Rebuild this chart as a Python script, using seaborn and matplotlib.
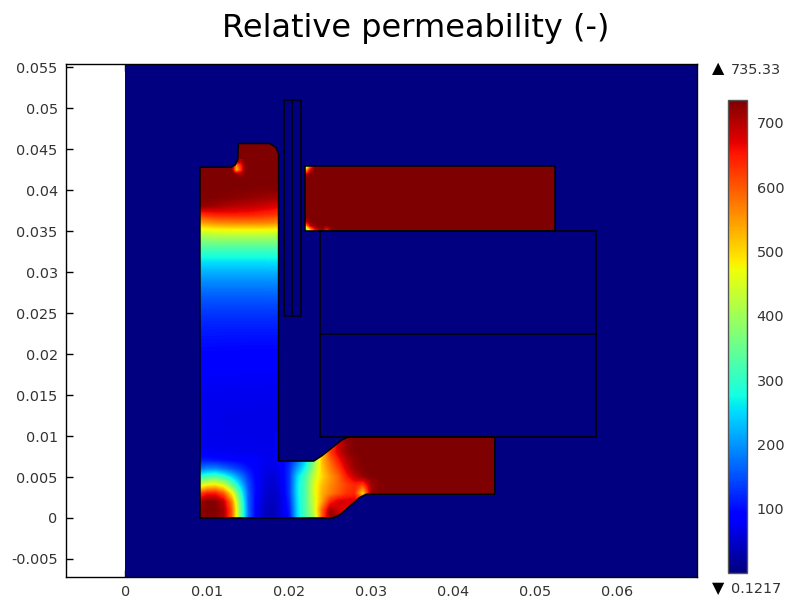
import numpy as np
import matplotlib
matplotlib.use('Agg')
import matplotlib.pyplot as plt
import seaborn as sns
from matplotlib.patches import Polygon
from matplotlib.transforms import Affine2D

# Values
V_MIN = 0.1217
V_MAX = 735.33
X_RIGHT = 0.0698
Y_LOW, Y_HIGH = -0.0072, 0.0554

x_ticks = [0, 0.01, 0.02, 0.03, 0.04, 0.05, 0.06]
x_tick_labels = ['0', '0.01', '0.02', '0.03', '0.04', '0.05', '0.06']
y_ticks = [-0.005, 0, 0.005, 0.01, 0.015, 0.02, 0.025, 0.03, 0.035, 0.04, 0.045, 0.05, 0.055]
y_tick_labels = ['-0.005', '0', '0.005', '0.01', '0.015', '0.02', '0.025', '0.03', '0.035',
                 '0.04', '0.045', '0.05', '0.055']
cbar_ticks = [100, 200, 300, 400, 500, 600, 700]

# Geometry outlines, in mm
stator_x = [9.1, 25.3, 26.2, 28.6, 29.4, 45.1, 45.1, 27.2, 26.4, 24.0, 23.0, 18.7, 18.7, 18.4, 17.6,
            13.8, 13.7, 13.4, 12.9, 9.1]
stator_y = [0, 0, 0.4, 2.5, 2.9, 2.9, 9.9, 9.9, 9.5, 7.6, 6.95, 6.95, 44.4, 45.2, 45.7,
            45.7, 43.7, 43.1, 42.8, 42.8]
yoke_x = [21.9, 52.5, 52.5, 21.9]
yoke_y = [42.9, 42.9, 35.0, 35.0]
magnet_x = [23.75, 57.5, 57.5, 23.75]
magnet_y = [35.0, 35.0, 9.9, 9.9]
divider_x = [23.75, 57.5]
divider_y = [22.4, 22.4]
coil_x = [19.35, 21.4, 21.4, 19.35]
coil_y = [51.0, 51.0, 24.6, 24.6]
coil_mid_x = [20.4, 20.4]
coil_mid_y = [51.0, 24.6]

# Permeability in the upper column: rows y = 11..46 mm, columns x = 9, 11, 13, 15, 17, 19 mm
column_field = [
    [70, 70, 69, 68, 68, 68], [69, 69, 68, 68, 67, 67], [70, 70, 69, 69, 68, 68],
    [72, 71, 71, 70, 70, 70], [74, 74, 73, 73, 72, 72], [76, 76, 75, 75, 74, 74],
    [80, 79, 79, 78, 78, 78], [84, 83, 83, 82, 82, 82], [88, 88, 87, 87, 86, 86],
    [93, 93, 92, 92, 91, 91], [99, 98, 98, 97, 97, 97], [105, 105, 104, 104, 104, 104],
    [113, 112, 112, 112, 112, 112], [122, 121, 121, 121, 121, 122], [133, 132, 132, 132, 132, 133],
    [146, 145, 145, 145, 145, 147], [160, 160, 160, 160, 160, 162], [178, 178, 178, 178, 178, 180],
    [198, 198, 198, 198, 198, 200], [222, 222, 222, 222, 222, 224], [250, 250, 250, 250, 250, 252],
    [285, 285, 285, 285, 285, 287], [330, 332, 332, 332, 332, 332], [385, 392, 392, 392, 392, 388],
    [450, 465, 468, 468, 468, 460], [545, 565, 570, 572, 570, 560], [635, 650, 652, 650, 640, 630],
    [725, 715, 700, 695, 685, 670], [733, 733, 728, 722, 715, 708], [734, 734, 733, 733, 731, 730],
    [734, 734, 734, 734, 734, 734], [734, 734, 734, 734, 734, 734], [734, 734, 734, 734, 734, 734],
    [734, 734, 734, 734, 734, 734], [734, 734, 734, 734, 734, 734], [734, 734, 734, 734, 734, 734],
]

# Permeability in the bottom bar: rows y = 0..11 mm, columns x = 9..34 mm
bottom_field = [
    [725, 730, 730, 710, 600, 370, 170, 80, 45, 35, 60, 100, 250, 320, 400, 600, 725, 710, 700, 700, 700, 700, 700, 700, 700, 700],
    [725, 733, 733, 710, 600, 370, 170, 80, 45, 35, 60, 110, 250, 330, 430, 590, 710, 680, 660, 660, 660, 660, 660, 660, 660, 660],
    [705, 730, 730, 690, 570, 350, 165, 85, 50, 40, 60, 120, 255, 330, 440, 540, 640, 680, 680, 680, 650, 650, 650, 650, 650, 650],
    [610, 650, 650, 600, 480, 310, 160, 90, 55, 45, 65, 130, 260, 330, 450, 530, 570, 600, 630, 640, 500, 720, 734, 734, 734, 734],
    [430, 480, 490, 450, 350, 250, 150, 90, 60, 50, 70, 130, 260, 330, 450, 520, 560, 590, 620, 640, 620, 710, 730, 734, 734, 734],
    [290, 320, 330, 300, 250, 190, 130, 90, 65, 55, 75, 130, 250, 320, 430, 500, 550, 590, 650, 690, 720, 733, 734, 734, 734, 734],
    [170, 190, 190, 170, 150, 130, 105, 85, 70, 65, 80, 125, 210, 280, 400, 510, 570, 620, 680, 720, 733, 734, 734, 734, 734, 734],
    [110, 110, 105, 100, 95, 90, 85, 80, 75, 72, 90, 110, 170, 250, 370, 520, 590, 650, 700, 725, 733, 734, 734, 734, 734, 734],
    [78, 78, 76, 75, 74, 73, 72, 72, 71, 70, 90, 110, 170, 250, 300, 500, 620, 680, 720, 733, 734, 734, 734, 734, 734, 734],
    [72, 72, 71, 70, 70, 70, 70, 70, 69, 69, 90, 110, 170, 250, 300, 500, 600, 680, 720, 733, 734, 734, 734, 734, 734, 734],
    [70, 70, 70, 69, 69, 69, 69, 68, 68, 68, 90, 110, 170, 250, 300, 500, 650, 700, 730, 734, 734, 734, 734, 734, 734, 734],
    [70, 70, 69, 68, 68, 68, 68, 68, 68, 68, 90, 110, 170, 250, 300, 500, 680, 720, 733, 734, 734, 734, 734, 734, 734, 734],
]
bar_end_field = [[734]]
yoke_field = [[734]]

# Corner hot spots, 0.5 mm cells
notch_field = [
    [734, 734, 734, 734, 734, 734],
    [734, 734, 720, 700, 730, 734],
    [734, 725, 520, 620, 720, 734],
    [734, 734, 560, 640, 725, 734],
    [734, 734, 734, 700, 734, 734],
]
yoke_top_corner = [
    [734, 734, 734, 734, 734],
    [700, 734, 734, 734, 734],
    [560, 690, 734, 734, 734],
    [380, 600, 725, 734, 734],
]
yoke_low_corner = [
    [330, 520, 640, 700, 720, 640, 725, 734],
    [560, 690, 725, 734, 734, 734, 734, 734],
    [700, 734, 734, 734, 734, 734, 734, 734],
    [734, 734, 734, 734, 734, 734, 734, 734],
]
domain_field = [[V_MIN]]

sns.set_style('white')
plt.rcParams['font.family'] = ['DejaVu Sans']
TEXT = '#333333'

fig = plt.figure(figsize=(7.87, 5.98), dpi=100)
ax = fig.add_axes([66 / 787, 21 / 598, 631 / 787, 513 / 598])
cax = fig.add_axes([728 / 787, 25 / 598, 19 / 787, 473 / 598])

# Dark blue background of the whole domain, with the colour bar
sns.heatmap(domain_field, ax=ax, cmap='jet', vmin=V_MIN, vmax=V_MAX, cbar_ax=cax,
            xticklabels=False, yticklabels=False)
mesh = ax.collections[0]
mesh.set_transform(Affine2D().scale(X_RIGHT, Y_HIGH - Y_LOW).translate(0, Y_LOW) + ax.transData)


def draw_field(values, x0, y0, dx, dy, clip):
    # x0, y0 = centre of first cell, all in mm
    arr = np.array(values, dtype=float)
    rows, cols = arr.shape
    extent = [(x0 - dx / 2) / 1000, (x0 + (cols - 0.5) * dx) / 1000,
              (y0 - dy / 2) / 1000, (y0 + (rows - 0.5) * dy) / 1000]
    im = ax.imshow(arr, origin='lower', extent=extent, aspect='auto', cmap='jet',
                   vmin=V_MIN, vmax=V_MAX, interpolation='bilinear', zorder=2)
    im.set_clip_path(clip)


stator = Polygon(np.column_stack([stator_x, stator_y]) / 1000, closed=True, fill=False,
                 edgecolor='none', transform=ax.transData)
yoke = Polygon(np.column_stack([yoke_x, yoke_y]) / 1000, closed=True, fill=False,
               edgecolor='none', transform=ax.transData)
ax.add_patch(stator)
ax.add_patch(yoke)

draw_field(bar_end_field, 40, 6, 11, 12, stator)
draw_field(bottom_field, 9, 0, 1, 1, stator)
draw_field(column_field, 9, 11, 2, 1, stator)
draw_field(notch_field, 12.5, 41.5, 0.5, 0.5, stator)
draw_field(yoke_field, 37.2, 39, 31, 8, yoke)
draw_field(yoke_top_corner, 22.0, 41.4, 0.5, 0.5, yoke)
draw_field(yoke_low_corner, 22.0, 35.1, 0.5, 0.5, yoke)

# Outlines
for xs, ys, closed in [(stator_x, stator_y, True), (yoke_x, yoke_y, True), (magnet_x, magnet_y, True),
                       (divider_x, divider_y, False), (coil_x, coil_y, True), (coil_mid_x, coil_mid_y, False)]:
    px = np.array(xs + xs[:1] if closed else xs) / 1000
    py = np.array(ys + ys[:1] if closed else ys) / 1000
    ax.plot(px, py, color='black', lw=1.1, zorder=3)

ax.set_xlim(-0.00726, X_RIGHT)
ax.set_ylim(Y_LOW, Y_HIGH)
ax.set_xticks(x_ticks)
ax.set_xticklabels(x_tick_labels)
ax.set_yticks(y_ticks)
ax.set_yticklabels(y_tick_labels)
ax.tick_params(axis='both', direction='in', length=5, width=1, color='black',
               top=True, right=True, bottom=True, left=True, labelsize=10.4, labelcolor=TEXT, pad=6)
for spine in ax.spines.values():
    spine.set_visible(True)
    spine.set_color('black')
    spine.set_linewidth(1)

# Colour bar
cbar = mesh.colorbar
cbar.set_ticks(cbar_ticks)
cbar.set_ticklabels([str(t) for t in cbar_ticks])
cbar.outline.set_visible(True)
cbar.outline.set_edgecolor('#555555')
cbar.outline.set_linewidth(1)
cax.tick_params(axis='y', direction='in', length=3, width=1, color='black', left=True, right=True,
                labelleft=False, labelright=True, labelsize=10.4, labelcolor=TEXT, pad=7)

fig.text(416 / 787, 1 - 28 / 598, 'Relative permeability (-)', ha='center', va='center',
         fontsize=23, color='black')
fig.text(718 / 787, 1 - 69 / 598, '\u25b2', ha='center', va='center', fontsize=11.5, color='black')
fig.text(731 / 787, 1 - 70 / 598, '735.33', ha='left', va='center', fontsize=10.4, color=TEXT)
fig.text(718 / 787, 1 - 589 / 598, '\u25bc', ha='center', va='center', fontsize=11.5, color='black')
fig.text(731 / 787, 1 - 589 / 598, '0.1217', ha='left', va='center', fontsize=10.4, color=TEXT)

fig.savefig('out.png', dpi=100, facecolor='white')
